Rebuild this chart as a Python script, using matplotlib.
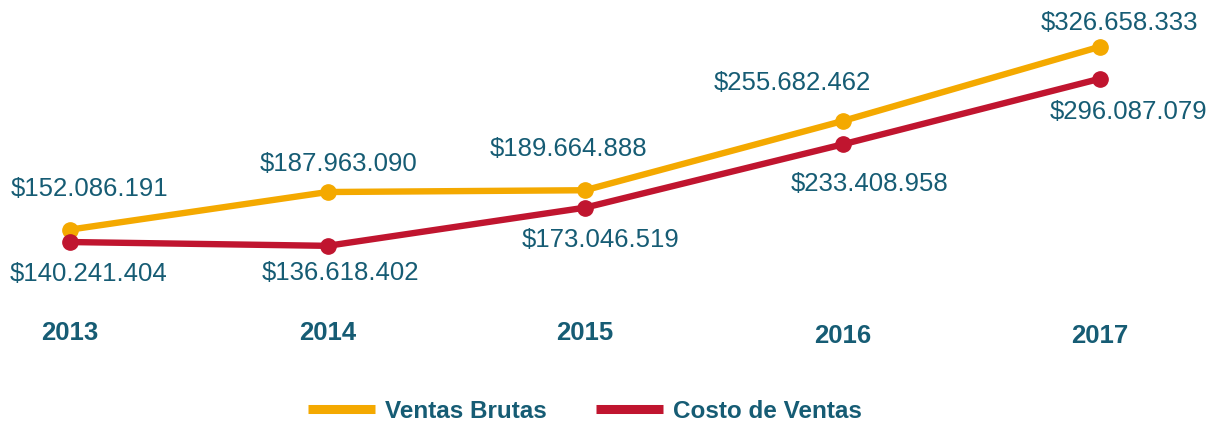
import matplotlib
matplotlib.use("Agg")
import matplotlib.pyplot as plt
from matplotlib.lines import Line2D

plt.rcParams['font.family'] = ['Liberation Sans', 'DejaVu Sans']

years = [2013, 2014, 2015, 2016, 2017]
ventas_brutas = [152086191, 187963090, 189664888, 255682462, 326658333]
costo_ventas = [140241404, 136618402, 173046519, 233408958, 296087079]
series_names = ["Ventas Brutas", "Costo de Ventas"]

ORANGE = '#f4a900'
RED = '#c0152f'
TEAL = '#165c74'

# label offsets (pixels, from the point to the label baseline centre)
vb_off = [(19, 34), (11, 21), (-17, 34), (-50, 31), (19, 17)]
cv_off = [(19, -39), (13, -34), (15, -39), (27, -47), (28, -40)]
year_drop = [0, 0, 0, 3, 3]

def fmt(v):
  return "$" + "{:,}".format(v).replace(",", ".")

fig = plt.figure(figsize=(12.17, 4.24), dpi=100)
ax = fig.add_axes([0, 0, 1, 1])
ax.set_xlim(2012.728, 2017.454)
ax.set_ylim(-33.4e6, 371.2e6)
ax.axis('off')

ax.plot(years, ventas_brutas, '-o', color=ORANGE, lw=4.6, markersize=11, solid_capstyle='round')
ax.plot(years, costo_ventas, '-o', color=RED, lw=4.6, markersize=11, solid_capstyle='round')

for i in range(len(years)):
  ax.annotate(fmt(ventas_brutas[i]), (years[i], ventas_brutas[i]), xytext=vb_off[i],
              textcoords='offset pixels', ha='center', va='baseline', fontsize=18.5, color=TEAL)
  ax.annotate(fmt(costo_ventas[i]), (years[i], costo_ventas[i]), xytext=cv_off[i],
              textcoords='offset pixels', ha='center', va='baseline', fontsize=18.5, color=TEAL)
  ax.annotate(str(years[i]), (years[i], 0), xycoords=('data', 'figure pixels'),
              xytext=(0, 424 - 340 - year_drop[i]), textcoords='offset pixels',
              ha='center', va='baseline', fontsize=18.5, fontweight='bold', color=TEAL)

handles = [Line2D([], [], color=ORANGE, lw=6.5, solid_capstyle='butt'),
           Line2D([], [], color=RED, lw=6.5, solid_capstyle='butt')]
leg = fig.legend(handles, series_names, loc='center', bbox_to_anchor=(585 / 1217, 1 - 411 / 424),
                 ncol=2, frameon=False, fontsize=17.5, handlelength=2.76, handletextpad=0.41,
                 columnspacing=2.0, borderpad=0, borderaxespad=0)
for t in leg.get_texts():
  t.set_color(TEAL)
  t.set_fontweight('bold')

fig.savefig("out.png", dpi=100)
